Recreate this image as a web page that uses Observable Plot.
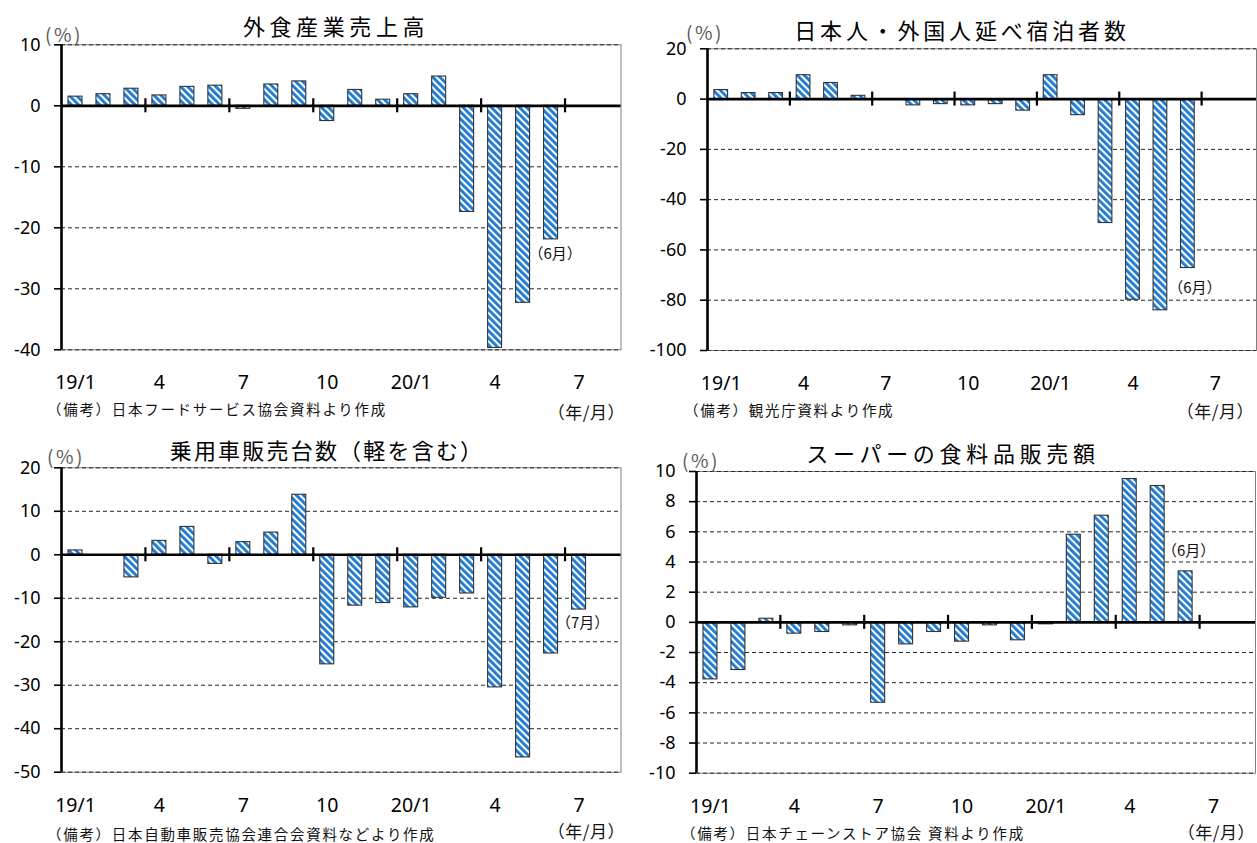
<!DOCTYPE html>
<html lang="ja">
<head>
<meta charset="utf-8">
<script src="https://cdn.jsdelivr.net/npm/d3@7"></script>
<script src="https://cdn.jsdelivr.net/npm/@observablehq/plot@0.6"></script>
<style>
  html, body { margin: 0; padding: 0; background: #fff; }
  #page { position: relative; width: 1257px; height: 843px; overflow: hidden; background: #fff;
          font-family: "Noto Sans CJK JP", sans-serif; color: #000; }
  .panel { position: absolute; }
  .panel svg { position: absolute; left: 0; top: 0; overflow: visible; }
  .lbl { position: absolute; white-space: nowrap; line-height: 1; }
  .title { font-size: 22px; transform: translate(-50%, -50%); }
  .unit { font-size: 19px; letter-spacing: 2.5px; color: #595959; transform: translate(-50%, -50%); }
  .source { font-size: 14.5px; letter-spacing: 1.7px; color: #111; transform: translateY(-50%); }
  .ym { font-size: 17px; letter-spacing: 0.5px; color: #111; transform: translate(-100%, -50%); }
</style>
</head>
<body>
<div id="page"></div>
<script>
// Year-on-year change (%), monthly from 2019/1
const diningSales = [1.5, 1.9, 2.8, 1.7, 3.1, 3.3, -0.5, 3.5, 4.0, -2.5, 2.6, 1.0, 1.9, 4.8, -17.4, -39.7, -32.3, -21.9];
const guestNights = [3.6, 2.4, 2.4, 9.5, 6.4, 1.3, 0, -2.5, -2.0, -2.5, -2.0, -4.6, 9.5, -6.4, -49.3, -79.8, -84.0, -67.2];
const carSales = [1.0, 0, -5.2, 3.2, 6.4, -2.1, 2.9, 5.1, 13.8, -25.2, -11.7, -11.1, -12.1, -9.9, -8.9, -30.5, -46.6, -22.7, -12.6];
const groceryStoreSales = [-3.78, -3.16, 0.24, -0.75, -0.64, -0.2, -5.33, -1.46, -0.64, -1.28, -0.2, -1.19, -0.13, 5.81, 7.07, 9.5, 9.04, 3.38];

// Month slots 19/1 .. 20/8, labelled every quarter
const slotCount = 20;
const monthTickSlots = [0, 3, 6, 9, 12, 15, 18];
const monthTickLabels = ["19/1", "4", "7", "10", "20/1", "4", "7"];
const quarterBoundaries = [3, 6, 9, 12, 15, 18];

const diningTicks = [10, 0, -10, -20, -30, -40];
const guestTicks = [20, 0, -20, -40, -60, -80, -100];
const carTicks = [20, 10, 0, -10, -20, -30, -40, -50];
const groceryTicks = [10, 8, 6, 4, 2, 0, -2, -4, -6, -8, -10];

const hatchBlue = "#1f7bd2";
const latinFont = '"Noto Sans", "Liberation Sans", sans-serif';
const cjkFont = '"Noto Sans CJK JP", sans-serif';

// ymAt gives the right edge and vertical centre of the "(年/月)" label
const panels = [
  { key: "dining", values: diningSales, yTicks: diningTicks,
    title: "外食産業売上高", titleSpacing: 4.6,
    source: "（備考）日本フードサービス協会資料より作成",
    note: "（6月）", noteSlot: 17, noteOffset: [4, 15],
    box: { left: 0, top: 0, width: 628, height: 420 },
    margin: { top: 44.3, right: 7.5, bottom: 70.7, left: 61 },
    titleAt: [336, 25], unitAt: [64, 33], sourceAt: [47, 409], ymAt: [625, 411] },
  { key: "guests", values: guestNights, yTicks: guestTicks,
    title: "日本人・外国人延べ宿泊者数", titleSpacing: 3.8,
    source: "（備考）観光庁資料より作成",
    note: "（6月）", noteSlot: 17, noteOffset: [7, 20],
    box: { left: 628, top: 0, width: 629, height: 420 },
    margin: { top: 48.3, right: 1, bottom: 70, left: 79 },
    titleAt: [962, 29], unitAt: [705, 31], sourceAt: [684, 410], ymAt: [1254, 410] },
  { key: "cars", values: carSales, yTicks: carTicks,
    title: "乗用車販売台数（軽を含む）", titleSpacing: 2.2,
    source: "（備考）日本自動車販売協会連合会資料などより作成",
    note: "（7月）", noteSlot: 18, noteOffset: [3.5, 14],
    box: { left: 0, top: 420, width: 628, height: 423 },
    margin: { top: 47.3, right: 7.5, bottom: 71.3, left: 61 },
    titleAt: [327, 449], unitAt: [66, 455], sourceAt: [47, 834], ymAt: [625, 830] },
  { key: "grocery", values: groceryStoreSales, yTicks: groceryTicks,
    title: "スーパーの食料品販売額", titleSpacing: 4.7,
    source: "（備考）日本チェーンストア協会 資料より作成",
    note: "（6月）", noteSlot: 17, noteOffset: [3, -20],
    box: { left: 628, top: 420, width: 629, height: 423 },
    margin: { top: 51, right: 2, bottom: 70.3, left: 68 },
    titleAt: [953, 452], unitAt: [701, 459], sourceAt: [681, 833], ymAt: [1255, 831] }
];

const page = document.getElementById("page");

function addLabel(cls, text, [x, y], extra = {}) {
  const el = document.createElement("div");
  el.className = "lbl " + cls;
  el.textContent = text;
  el.style.left = x + "px";
  el.style.top = y + "px";
  Object.assign(el.style, extra);
  page.appendChild(el);
}

function drawPanel(p) {
  const [yMin, yMax] = d3.extent(p.yTicks);
  const rows = p.values.map((value, slot) => ({ slot, value }));
  const patternId = "hatch-" + p.key;
  const tickText = new Map(monthTickSlots.map((s, k) => [s + 0.5, monthTickLabels[k]]));

  const svg = Plot.plot({
    width: p.box.width,
    height: p.box.height,
    marginTop: p.margin.top,
    marginRight: p.margin.right,
    marginBottom: p.margin.bottom,
    marginLeft: p.margin.left,
    x: { type: "linear", domain: [0, slotCount] },
    y: { domain: [yMin, yMax] },
    style: { fontFamily: latinFont, fontSize: "18px", color: "#000", background: "transparent", overflow: "visible" },
    marks: [
      Plot.frame({ stroke: "#7f7f7f", strokeWidth: 1 }),
      Plot.ruleY(p.yTicks.filter(t => t !== 0), { stroke: "#262626", strokeWidth: 1, strokeDasharray: "4,3" }),
      Plot.rect(rows, {
        x1: d => d.slot + 0.25, x2: d => d.slot + 0.75,
        y1: 0, y2: "value",
        fill: `url(#${patternId})`, stroke: "#333", strokeWidth: 1.1
      }),
      Plot.ruleY([0], { stroke: "#000", strokeWidth: 2.7 }),
      Plot.ruleX([0], { stroke: "#000", strokeWidth: 2.6 }),
      Plot.ruleX(quarterBoundaries, { y1: 0, y2: 0, insetTop: -7, insetBottom: -7, stroke: "#000", strokeWidth: 2.2 }),
      Plot.axisY({ ticks: p.yTicks, tickFormat: d => String(d), tickSize: 7, tickPadding: 14, strokeWidth: 1.6, fontSize: 18, label: null }),
      Plot.axisX({ ticks: [...tickText.keys()], tickFormat: d => tickText.get(d), tickSize: 0, tickPadding: 25.5, fontSize: 19.5, label: null }),
      Plot.text([p.noteSlot], {
        x: s => s + 0.5, y: s => p.values[s], text: () => p.note,
        dx: p.noteOffset[0], dy: p.noteOffset[1],
        fontFamily: cjkFont, fontSize: 15, lineAnchor: "middle", fill: "#111"
      })
    ]
  });

  // Diagonal hatch used as the bar fill
  const defs = d3.select(svg).insert("defs", ":first-child");
  const pat = defs.append("pattern")
    .attr("id", patternId)
    .attr("patternUnits", "userSpaceOnUse")
    .attr("width", 5).attr("height", 5)
    .attr("patternTransform", "rotate(-45)");
  pat.append("rect").attr("width", 5).attr("height", 5).attr("fill", "#fff");
  pat.append("rect").attr("width", 2.9).attr("height", 5).attr("fill", hatchBlue);

  const holder = document.createElement("div");
  holder.className = "panel";
  holder.style.left = p.box.left + "px";
  holder.style.top = p.box.top + "px";
  holder.style.width = p.box.width + "px";
  holder.style.height = p.box.height + "px";
  holder.appendChild(svg);
  page.appendChild(holder);

  addLabel("title", p.title, p.titleAt, { letterSpacing: p.titleSpacing + "px" });
  addLabel("unit", "(%)", p.unitAt);
  addLabel("source", p.source, p.sourceAt);
  addLabel("ym", "（年/月）", p.ymAt);
}

panels.forEach(drawPanel);
</script>
</body>
</html>
